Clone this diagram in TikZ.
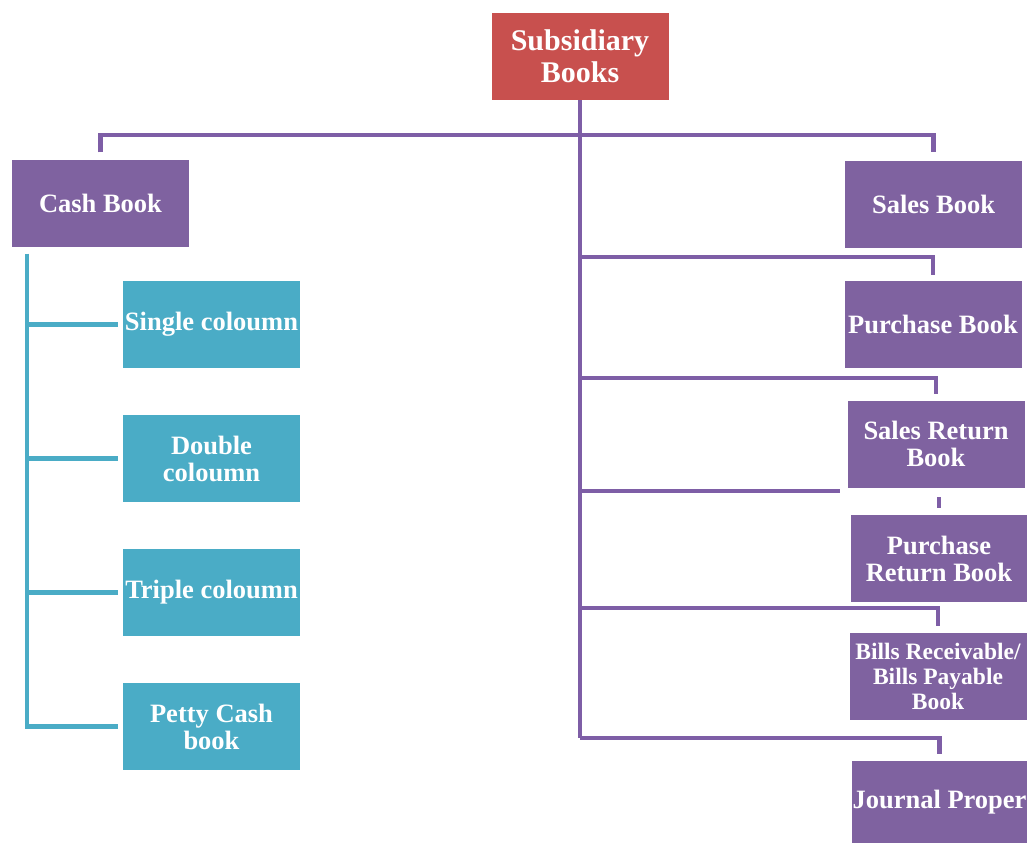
\documentclass[tikz,border=0pt]{standalone}
\usepackage{fontspec}
\setmainfont{Liberation Serif}
\definecolor{boxpurple}{HTML}{7F62A0}
\definecolor{linepurple}{HTML}{7E5EA6}
\definecolor{boxred}{HTML}{C8504E}
\definecolor{boxcyan}{HTML}{4AACC6}
\tikzset{
  basebox/.style={inner sep=0pt, align=center, text=white, minimum width=177pt, minimum height=87pt},
  rootbox/.style={basebox, fill=boxred, font=\bfseries\fontsize{30}{32}\selectfont},
  purplebox/.style={basebox, fill=boxpurple, font=\bfseries\fontsize{26.5}{27}\selectfont},
  smallpurplebox/.style={basebox, fill=boxpurple, font=\bfseries\fontsize{23.5}{25}\selectfont},
  cyanbox/.style={basebox, fill=boxcyan, font=\bfseries\fontsize{26.5}{27}\selectfont},
  purpleline/.style={draw=linepurple, line width=4.5pt, line join=miter},
  cyanline/.style={draw=boxcyan, line width=4.5pt, line join=miter}
}
\begin{document}
\begin{tikzpicture}[x=1pt,y=-1pt]
\useasboundingbox (0,0) rectangle (1027,843);
% nodes
\node[rootbox] (root) at (580,56.5) {Subsidiary\\Books};
\node[purplebox] (cash) at (100.5,203) {Cash Book};
\node[purplebox] (sales) at (933.5,204.5) {Sales Book};
\node[purplebox] (purchase) at (933,324.5) {Purchase Book};
\node[purplebox] (salesret) at (936,444) {Sales Return\\Book};
\node[purplebox, minimum width=176pt] (purret) at (939,558.5) {Purchase\\Return Book};
\node[smallpurplebox] (bills) at (938,676.5) {Bills Receivable/\\Bills Payable\\Book};
\node[purplebox, minimum width=175pt, minimum height=82pt] (journal) at (939.5,802) {Journal Proper};
\node[cyanbox] (single) at (211.5,324.5) {Single coloumn};
\node[cyanbox] (double) at (211.5,458.5) {Double\\coloumn};
\node[cyanbox] (triple) at (211.5,592.5) {Triple coloumn};
\node[cyanbox] (petty) at (211.5,726.5) {Petty Cash\\book};
% junction coordinates
\coordinate (tb) at (580,135);
\coordinate (b1) at (580,257);
\coordinate (b2) at (580,378);
\coordinate (b3) at (580,491);
\coordinate (b4) at (580,608);
\coordinate (b5) at (580,738);
\coordinate (cl) at ([xshift=15pt,yshift=-7pt]cash.south west);
% purple connectors
\draw[purpleline] (root.south) -- (b5);
\draw[purpleline] ([yshift=7pt]cash.north) |- (tb) -| ([yshift=9pt]sales.north);
\draw[purpleline] (b1) -| ([yshift=6pt]purchase.north);
\draw[purpleline] (b2) -| ([yshift=6pt]salesret.north);
\draw[purpleline] (b3) -- ([xshift=-7pt]b3 -| salesret.west);
\draw[purpleline] ([yshift=7pt]purret.north) -- ([yshift=18pt]purret.north);
\draw[purpleline] (b4) -| ([yshift=7pt]bills.north);
\draw[purpleline] (b5) -| ([yshift=7pt]journal.north);
% cyan connectors
\draw[cyanline] (cl) |- ([xshift=-5pt]petty.west);
\draw[cyanline] (cl |- single.west) -- ([xshift=-5pt]single.west);
\draw[cyanline] (cl |- double.west) -- ([xshift=-5pt]double.west);
\draw[cyanline] (cl |- triple.west) -- ([xshift=-5pt]triple.west);
\end{tikzpicture}
\end{document}
